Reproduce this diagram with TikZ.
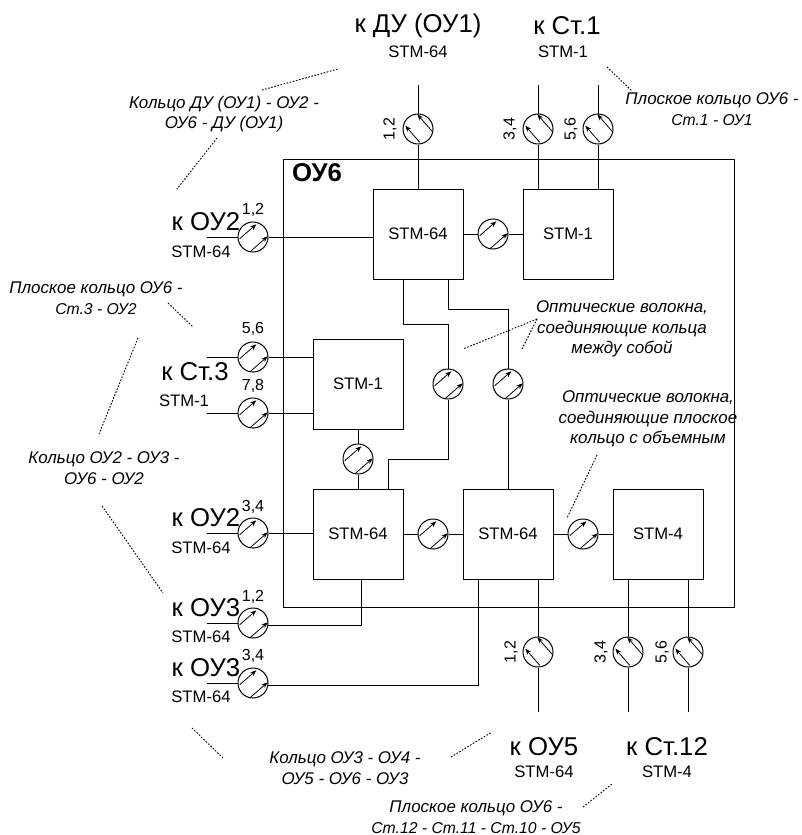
\documentclass[tikz,border=0pt]{standalone}
\usepackage{fontspec}
\setmainfont{Liberation Sans}
\usetikzlibrary{arrows.meta, positioning}
\newcommand{\tightline}{\fontsize{11.8}{15.4}\selectfont}
\tikzset{
    unit/.style={draw, line width=0.75pt, minimum size=67.5pt, inner sep=0pt, font=\fontsize{12.5}{15}\selectfont},
    ampbase/.style={circle, draw, line width=0.75pt, minimum size=22.5pt, inner sep=0pt, fill=white},
    ampright/.style={ampbase, path picture={
        \draw[->, line width=0.6pt, shift={(path picture bounding box.center)}] (-13.3,1.7) -- (3.3,-12.7);
        \draw[->, line width=0.6pt, shift={(path picture bounding box.center)}] (-3.3,15) -- (14.7,-0.7);}},
    ampleft/.style={ampbase, path picture={
        \draw[->, line width=0.6pt, shift={(path picture bounding box.center)}] (1.7,13.3) -- (-12.7,-3.3);
        \draw[->, line width=0.6pt, shift={(path picture bounding box.center)}] (15,3.3) -- (-0.7,-14.7);}},
    dest/.style={font=\fontsize{19.3}{20}\selectfont, inner sep=0pt},
    rate/.style={font=\fontsize{12.5}{15}\selectfont, inner sep=0pt},
    fibre/.style={font=\fontsize{12}{14}\selectfont, inner sep=0pt},
    note/.style={font=\fontsize{12.7}{15.4}\selectfont\itshape, align=center, inner sep=0pt},
    leader/.style={line width=0.7pt, dash pattern=on 1.2pt off 1.2pt},
    wire/.style={line width=0.75pt},
}
\begin{document}
\begin{tikzpicture}[x=0.75pt, y=-0.75pt, >={Stealth[length=4.6pt, width=3.5pt]}]
    \useasboundingbox (0,0) rectangle (802,835);

    % shelf
    \node[draw, line width=0.75pt, minimum width=338.25pt, minimum height=336pt, inner sep=0pt] (shelf) at (508.5,383) {};
    \node[font=\fontsize{19.3}{20}\selectfont\bfseries, inner sep=0pt] (title) at (317,173) {ОУ6};

    % units
    \node[unit] (top64) at (418,234) {STM-64};
    \node[unit, right=44.25pt of top64] (top1) {STM-1};
    \node[unit] (mid1) at (358,384) {STM-1};
    \node[unit] (low64) at (358,534) {STM-64};
    \node[unit, right=44.25pt of low64] (cen64) {STM-64};
    \node[unit, right=44.25pt of cen64] (low4) {STM-4};

    % amplifiers
    \node[ampleft] (du12) at (418,129) {};
    \node[ampleft] (st34) at (538,129) {};
    \node[ampleft] (st56) at (598,129) {};
    \node[ampright] (ou212) at (253,237) {};
    \node[ampright] (st356) at (253,357) {};
    \node[ampright] (st378) at (253,413) {};
    \node[ampright] (ou234) at (253,533) {};
    \node[ampright] (ou312) at (253,623) {};
    \node[ampright] (ou334) at (253,683) {};
    \node[ampright] (link) at (493,234) {};
    \node[ampright] (drop) at (358,459) {};
    \node[ampright] (tie1) at (448,384) {};
    \node[ampright] (tie2) at (508,384) {};
    \node[ampright] (sideA) at (433,534) {};
    \node[ampright] (sideB) at (583,534) {};
    \node[ampleft] (ou512) at (538,652) {};
    \node[ampleft] (st34b) at (628,652) {};
    \node[ampleft] (st56b) at (688,652) {};

    % free ends
    \coordinate (enddu) at (418,85);
    \coordinate (endst34) at (538,85);
    \coordinate (endst56) at (598,85);
    \coordinate (endou212) at (207,237);
    \coordinate (endst356) at (207,357);
    \coordinate (endst378) at (207,413);
    \coordinate (endou234) at (207,533);
    \coordinate (endou312) at (207,623);
    \coordinate (endou334) at (207,683);
    \coordinate (endou5) at (538,712);
    \coordinate (endst34b) at (628,712);
    \coordinate (endst56b) at (688,712);

    % fibres
    \draw[wire] (enddu) -- (du12);
    \draw[wire] (du12) -- (top64);
    \draw[wire] (endst34) -- (st34);
    \draw[wire] (st34) -- (st34 |- top1.north);
    \draw[wire] (endst56) -- (st56);
    \draw[wire] (st56) -- (st56 |- top1.north);
    \draw[wire] (endou212) -- (ou212);
    \draw[wire] (ou212) -- (ou212 -| top64.west);
    \draw[wire] (top64) -- (link);
    \draw[wire] (link) -- (top1);
    \draw[wire] (endst356) -- (st356);
    \draw[wire] (st356) -- (st356 -| mid1.west);
    \draw[wire] (endst378) -- (st378);
    \draw[wire] (st378) -- (st378 -| mid1.west);
    \draw[wire] (mid1) -- (drop);
    \draw[wire] (drop) -- (low64);
    \draw[wire] (endou234) -- (ou234);
    \draw[wire] (ou234) -- (ou234 -| low64.west);
    \draw[wire] (low64) -- (sideA);
    \draw[wire] (sideA) -- (cen64);
    \draw[wire] (cen64) -- (sideB);
    \draw[wire] (sideB) -- (low4);
    \draw[wire] (top64.south -| 403,0) |- (tie1.north |- 0,324) -- (tie1);
    \draw[wire] (top64.south -| 448,0) |- (tie2.north |- 0,309) -- (tie2);
    \draw[wire] (tie1) -- (tie1 |- 0,459) -| (low64.north -| 388,0);
    \draw[wire] (tie2) -- (tie2 |- cen64.north);
    \draw[wire] (endou312) -- (ou312);
    \draw[wire] (ou312.-11) -| (low64.south -| 361,0);
    \draw[wire] (endou334) -- (ou334);
    \draw[wire] (ou334.-11) -| (cen64.south -| 478,0);
    \draw[wire] (ou512) -- (ou512 |- cen64.south);
    \draw[wire] (ou512) -- (endou5);
    \draw[wire] (st34b) -- (st34b |- low4.south);
    \draw[wire] (st34b) -- (endst34b);
    \draw[wire] (st56b) -- (st56b |- low4.south);
    \draw[wire] (st56b) -- (endst56b);

    % fibre numbers
    \node[fibre, rotate=90] (ndu12) at (390,129) {1,2};
    \node[fibre, rotate=90] (nst34) at (510,129) {3,4};
    \node[fibre, rotate=90] (nst56) at (571,129) {5,6};
    \node[fibre] (nou212) at (253,210) {1,2};
    \node[fibre] (nst356) at (253,329) {5,6};
    \node[fibre] (nst378) at (253,386) {7,8};
    \node[fibre] (nou234) at (253,507) {3,4};
    \node[fibre] (nou312) at (253,597) {1,2};
    \node[fibre] (nou334) at (253,656) {3,4};
    \node[fibre, rotate=90] (nou512) at (511,652) {1,2};
    \node[fibre, rotate=90] (nst34b) at (601,652) {3,4};
    \node[fibre, rotate=90] (nst56b) at (662,652) {5,6};

    % destinations
    \node[dest] (tdu) at (418,26) {к ДУ (ОУ1)};
    \node[rate] (rdu) at (418,52) {STM-64};
    \node[dest] (tst1) at (567,26) {к Ст.1};
    \node[rate] (rst1) at (563,52) {STM-1};
    \node[dest] (tou212) at (206,222) {к ОУ2};
    \node[rate] (rou212) at (201,252) {STM-64};
    \node[dest] (tst3) at (195,372) {к Ст.3};
    \node[rate] (rst3) at (184,401) {STM-1};
    \node[dest] (tou234) at (206,518) {к ОУ2};
    \node[rate] (rou234) at (201,548) {STM-64};
    \node[dest] (tou312) at (206,608) {к ОУ3};
    \node[rate] (rou312) at (201,637) {STM-64};
    \node[dest] (tou334) at (206,668) {к ОУ3};
    \node[rate] (rou334) at (201,697) {STM-64};
    \node[dest] (tou5) at (544,747) {к ОУ5};
    \node[rate] (rou5) at (544,772) {STM-64};
    \node[dest] (tst12) at (667,747) {к Ст.12};
    \node[rate] (rst12) at (667,772) {STM-4};

    % notes
    \node[note] (ringdu) at (224,114) {Кольцо ДУ (ОУ1) - ОУ2 -\\ОУ6 - ДУ (ОУ1)};
    \node[note] (flat1) at (712,109) {Плоское кольцо ОУ6 -\\{\tightline Ст.1 - ОУ1}};
    \node[note] (flat3) at (96,298) {Плоское кольцо ОУ6 -\\{\tightline Ст.3 - ОУ2}};
    \node[note] (ring23) at (104,468) {Кольцо ОУ2 - ОУ3 -\\ОУ6 - ОУ2};
    \node[note] (ring34) at (345,768) {Кольцо ОУ3 - ОУ4 -\\ОУ5 - ОУ6 - ОУ3};
    \node[note] (flat12) at (476,817) {Плоское кольцо ОУ6 -\\{\tightline Ст.12 - Ст.11 - Ст.10 - ОУ5}};
    \node[note] (fibres1) at (622,329) {Оптические волокна,\\соединяющие кольца\\между собой};
    \node[note] (fibres2) at (648,419) {Оптические волокна,\\соединяющие плоское\\кольцо с объемным};

    % leaders
    \coordinate (la1) at (262,90);   \coordinate (la2) at (338,69);
    \coordinate (lb1) at (217,138);  \coordinate (lb2) at (177,189);
    \coordinate (lc1) at (607,67);   \coordinate (lc2) at (632,91);
    \coordinate (ld1) at (168,303);  \coordinate (ld2) at (193,327);
    \coordinate (le1) at (138,338);  \coordinate (le2) at (99,434);
    \coordinate (lf1) at (102,506);  \coordinate (lf2) at (163,593);
    \coordinate (lg1) at (192,728);  \coordinate (lg2) at (223,758);
    \coordinate (lh1) at (451,757);  \coordinate (lh2) at (492,732);
    \coordinate (li1) at (583,807);  \coordinate (li2) at (612,784);
    \coordinate (lj0) at (537,319);  \coordinate (lj1) at (463,349);
    \coordinate (lj2) at (522,349);
    \coordinate (lk1) at (597,455);  \coordinate (lk2) at (567,518);
    \draw[leader] (la1) -- (la2);
    \draw[leader] (lb1) -- (lb2);
    \draw[leader] (lc1) -- (lc2);
    \draw[leader] (ld1) -- (ld2);
    \draw[leader] (le1) -- (le2);
    \draw[leader] (lf1) -- (lf2);
    \draw[leader] (lg1) -- (lg2);
    \draw[leader] (lh1) -- (lh2);
    \draw[leader] (li1) -- (li2);
    \draw[leader] (lj0) -- (lj1);
    \draw[leader] (lj0) -- (lj2);
    \draw[leader] (lk1) -- (lk2);
\end{tikzpicture}
\end{document}
